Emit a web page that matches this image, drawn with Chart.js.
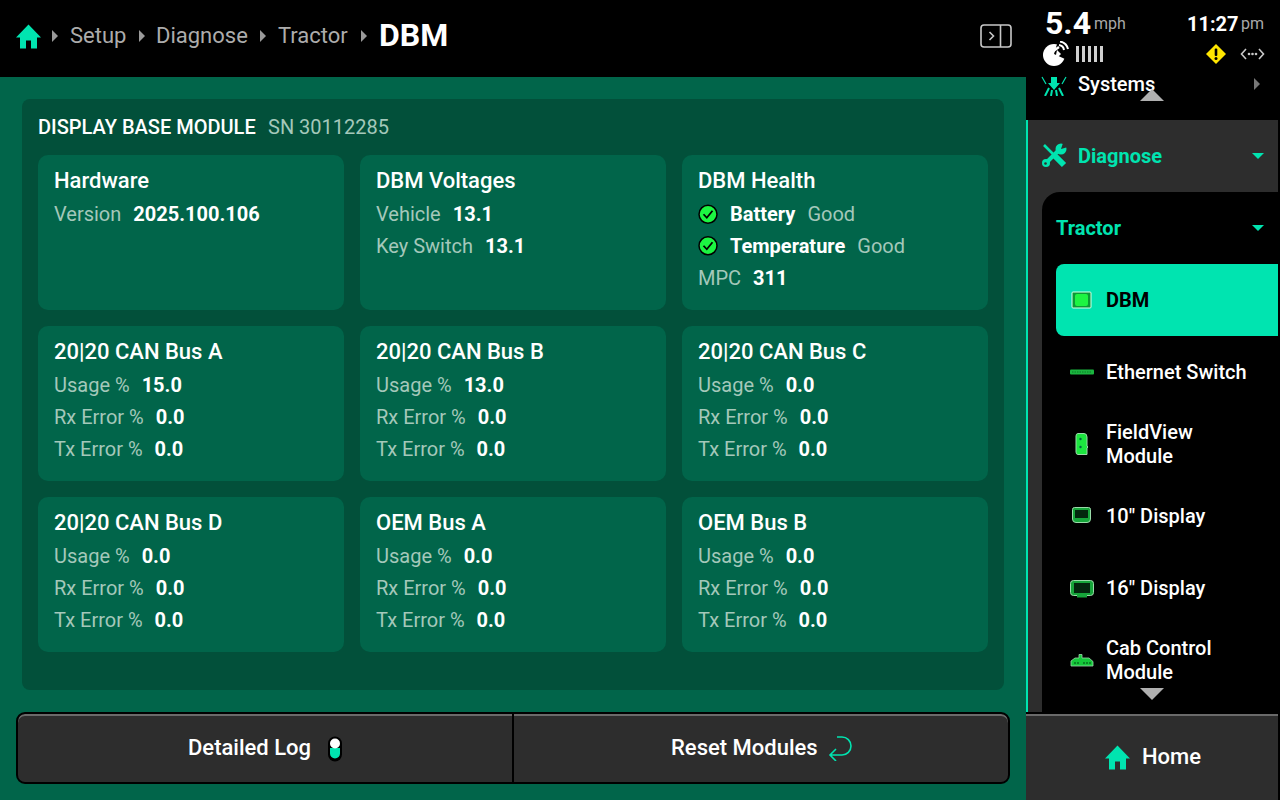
<!DOCTYPE html>
<html>
<head>
<meta charset="utf-8">
<title>DBM</title>
<script src="https://cdn.jsdelivr.net/npm/chart.js@4"></script>
<style>
  html, body { margin: 0; padding: 0; background: #000; }
  #screen { position: relative; width: 1280px; height: 800px; overflow: hidden; background: #000; font-family: Roboto, sans-serif; color: #fff; }
  #screen > div, #screen > svg, #screen > canvas { position: absolute; }
  .box { box-sizing: border-box; }
  .t { white-space: nowrap; line-height: 32px; height: 32px; }
  .card { background: #01654a; border-radius: 10px; }
  .row { display: flex; gap: 12px; font-size: 20px; }
  .lbl { color: #a4c8ba; }
  .val { color: #fff; font-weight: 700; }
  .crumb { color: #acacac; font-size: 22px; }
  .side { font-size: 20px; font-weight: 500; line-height: 24px; white-space: nowrap; }
</style>
</head>
<body>
<div id="screen"></div>
<script>
// breadcrumb + header
const crumbs = ['Setup', 'Diagnose', 'Tractor'];
const crumbX = [70, 156, 278];
const crumbArrowX = [52, 139, 260, 361];

// top row of cards
const hardwareVersion = '2025.100.106';
const voltageLabels = ['Vehicle', 'Key Switch'];
const voltageValues = ['13.1', '13.1'];
const healthLabels = ['Battery', 'Temperature'];
const healthText = ['Good', 'Good'];
const healthOk = [1, 1];
const mpcValue = '311';

// bus cards
const busNames = ['20|20 CAN Bus A', '20|20 CAN Bus B', '20|20 CAN Bus C', '20|20 CAN Bus D', 'OEM Bus A', 'OEM Bus B'];
const busUsage = ['15.0', '13.0', '0.0', '0.0', '0.0', '0.0'];
const busRxError = ['0.0', '0.0', '0.0', '0.0', '0.0', '0.0'];
const busTxError = ['0.0', '0.0', '0.0', '0.0', '0.0', '0.0'];

const screen_ = document.getElementById('screen');

function put(html, css, cls) {
  const el = document.createElement('div');
  if (cls) el.className = cls;
  el.style.cssText = css;
  el.innerHTML = html;
  screen_.appendChild(el);
  return el;
}

function svg(x, y, w, h, inner) {
  put(`<svg width="${w}" height="${h}" viewBox="0 0 ${w} ${h}" style="display:block">${inner}</svg>`,
    `left:${x}px;top:${y}px;width:${w}px;height:${h}px`);
}

function rect(x, y, w, h, color, extra) {
  return put('', `left:${x}px;top:${y}px;width:${w}px;height:${h}px;background:${color};${extra || ''}`, 'box');
}

function text(x, cy, str, size, weight, color) {
  return put(str, `left:${x}px;top:${cy - 16}px;font-size:${size}px;font-weight:${weight};color:${color}`, 't');
}

function row(x, cy, label, value) {
  return put(`<span class="lbl">${label}</span><span class="val">${value}</span>`,
    `left:${x}px;top:${cy - 16}px;line-height:32px`, 'row');
}

const homePath = 'M12 0 L24.5 13 L20.5 13 L20.5 24 L14.5 24 L14.5 16 L9.5 16 L9.5 24 L3.5 24 L3.5 13 L-0.5 13 Z';

// ---- main area
rect(0, 77, 1026, 723, '#01654a');
rect(22, 99, 982, 591, '#02503a', 'border-radius:8px');

text(38, 127, 'DISPLAY BASE MODULE', 20, 500, '#fff');
text(268, 127, 'SN 30112285', 20, 400, '#a4c8ba');

const cardX = [38, 360, 682];
const cardY = [155, 326, 497];
cardY.forEach(y => cardX.forEach(x => {
  put('', `left:${x}px;top:${y}px;width:306px;height:155px`, 'card');
}));

text(54, 181, 'Hardware', 22, 500, '#fff');
row(54, 214, 'Version', hardwareVersion);

text(376, 181, 'DBM Voltages', 22, 500, '#fff');
voltageLabels.forEach((label, i) => row(376, 214 + i * 32, label, voltageValues[i]));

text(698, 181, 'DBM Health', 22, 500, '#fff');
healthLabels.forEach((label, i) => {
  put(`<span class="val">${label}</span><span class="lbl">${healthText[i]}</span>`,
    `left:730px;top:${214 + i * 32 - 16}px;line-height:32px`, 'row');
});
row(698, 278, 'MPC', mpcValue);

busNames.forEach((name, i) => {
  const x = cardX[i % 3] + 16;
  const y = cardY[1 + Math.floor(i / 3)];
  text(x, y + 26, name, 22, 500, '#fff');
  row(x, y + 59, 'Usage %', busUsage[i]);
  row(x, y + 91, 'Rx Error %', busRxError[i]);
  row(x, y + 123, 'Tx Error %', busTxError[i]);
});

// ---- top bar
svg(16, 24, 25, 25, `<path d="${homePath}" transform="translate(0.5,0.5)" fill="#00e4b0"/>`);
crumbs.forEach((c, i) => put(c, `left:${crumbX[i]}px;top:20px`, 't crumb'));
crumbArrowX.forEach(x => svg(x, 30, 6, 12, '<path d="M0 0 L6 6 L0 12 Z" fill="#9a9a9a"/>'));
text(379, 35, 'DBM', 32, 700, '#fff');

svg(980, 24, 32, 24, `<rect x="1" y="1" width="30" height="22" rx="3" fill="none" stroke="#c8c8c8" stroke-width="1.6"/>
  <path d="M20.5 1 V23" stroke="#c8c8c8" stroke-width="1.6"/>
  <path d="M9.5 8 L13.5 12 L9.5 16" fill="none" stroke="#c8c8c8" stroke-width="1.6"/>`);

// ---- status block
text(1045, 23, '5.4', 32, 700, '#fff');
text(1094, 24, 'mph', 16, 400, '#a8a8a8');
text(1187, 24, '11:27', 20, 700, '#fff');
text(1241, 24, 'pm', 16, 400, '#a8a8a8');
svg(1043, 41, 27, 26, `<circle cx="11" cy="14" r="11" fill="#fff"/>
  <path d="M11 13 L15 0 H27 V14 L22 18 Z" fill="#000"/>
  <path d="M9 11 L16 6" stroke="#fff" stroke-width="2.4"/>
  <path d="M14 9 L18 13 L12 19 Z" fill="#fff"/>
  <path d="M16 4 A6 6 0 0 1 21 9 M17 0.5 A10 10 0 0 1 25 8" fill="none" stroke="#fff" stroke-width="2"/>`);
svg(1076, 46, 28, 16, [0, 6, 12, 18, 24].map(x => `<rect x="${x}" y="0" width="3" height="16" fill="#d0d0d0"/>`).join(''));
svg(1206, 44, 20, 20, `<path d="M10 0 L20 10 L10 20 L0 10 Z" fill="#ffe600"/><rect x="8.7" y="4.5" width="2.6" height="7.5" rx="1" fill="#000"/><circle cx="10" cy="14.5" r="1.5" fill="#000"/>`);
svg(1240, 47, 25, 14, `<path d="M6 2 L1.5 7 L6 12 M19 2 L23.5 7 L19 12" fill="none" stroke="#c8c8c8" stroke-width="1.6"/>
  <circle cx="9" cy="7" r="1.3" fill="#c8c8c8"/><circle cx="12.5" cy="7" r="1.3" fill="#c8c8c8"/><circle cx="16" cy="7" r="1.3" fill="#c8c8c8"/>`);

// ---- side menu
svg(1041, 76, 26, 20, `<path d="M10 1 H16 V7 H19 L13 14 L7 7 H10 Z" fill="#00e4b0"/>
  <path d="M8 12 L4 20 M18 12 L22 20 M11 14 L10 20 M15 14 L16 20" stroke="#00e4b0" stroke-width="2"/>
  <path d="M1 1 L5 8 M25 1 L21 8" stroke="#00e4b0" stroke-width="1.2"/>`);
put('Systems', 'left:1078px;top:72px', 'side');
svg(1254, 78, 6, 12, '<path d="M0 0 L6 6 L0 12 Z" fill="#777"/>');

rect(1026, 120, 252, 592, '#2d2d2d');
rect(1026, 120, 2, 592, '#00e4b0');
rect(1042, 192, 236, 520, '#000', 'border-top-left-radius:18px');
svg(1140, 89, 24, 12, '<path d="M12 0 L24 12 L0 12 Z" fill="#b0b0b0"/>');

svg(1041, 143, 27, 26, `<path d="M3 2 L14 13" stroke="#00e4b0" stroke-width="2.6"/>
  <path d="M14 13 L23 22" stroke="#00e4b0" stroke-width="6"/>
  <path d="M5 20 L19 6" stroke="#00e4b0" stroke-width="4"/>
  <circle cx="20" cy="6" r="5.5" fill="#00e4b0"/>
  <path d="M20 6 L22 0 H27 V4 Z" fill="#2d2d2d"/>
  <circle cx="5" cy="20" r="4" fill="#00e4b0"/><circle cx="4.5" cy="20.5" r="1.3" fill="#2d2d2d"/>`);
put('Diagnose', 'left:1078px;top:144px;color:#00e4b0;font-weight:700', 'side');
svg(1252, 153, 12, 6, '<path d="M0 0 L12 0 L6 6 Z" fill="#00e4b0"/>');

put('Tractor', 'left:1056px;top:216px;color:#00e4b0;font-weight:700', 'side');
svg(1252, 225, 12, 6, '<path d="M0 0 L12 0 L6 6 Z" fill="#00e4b0"/>');

rect(1056, 264, 222, 72, '#00e4b0', 'border-radius:8px 0 0 8px');
svg(1071, 291, 22, 18, `<rect x="1" y="1" width="19" height="16" rx="1" fill="#0a9a35" stroke="#d8ffe6" stroke-width="1"/><rect x="4" y="3" width="13" height="12" rx="2" fill="#1cf542"/>`);
put('DBM', 'left:1106px;top:288px;color:#000;font-weight:700', 'side');

svg(1070, 369, 24, 6, '<rect x="0" y="0.5" width="24" height="5" rx="1" fill="#1bb53f"/><path d="M2 3 H22" stroke="#0b7a26" stroke-dasharray="1.5 1"/>');
put('Ethernet Switch', 'left:1106px;top:360px', 'side');

svg(1075, 433, 14, 22, '<path d="M3 0.5 H9 Q12 0.5 12 4 V13 L13 14 L12 15 V21.5 H3 Q1 21.5 1 19 V3 Q1 0.5 3 0.5 Z" fill="#1ce63f" stroke="#9adba9"/><circle cx="5.5" cy="6" r="1.2" fill="#064"/><circle cx="5.5" cy="14" r="1.2" fill="#064"/>');
put('FieldView<br>Module', 'left:1106px;top:420px', 'side');

svg(1072, 507, 19, 17, '<path d="M2.5 0.5 H16.5 Q18.5 0.5 18.5 2.5 V12 Q18.5 15.5 15 15.5 H4 Q0.5 15.5 0.5 12 V2.5 Q0.5 0.5 2.5 0.5 Z" fill="#16a53a" stroke="#9adba9"/><rect x="3" y="3" width="13" height="8" fill="#03260e"/>');
put('10" Display', 'left:1106px;top:504px', 'side');

svg(1070, 580, 24, 18, '<rect x="0.5" y="0.5" width="23" height="15" rx="3" fill="#16a53a" stroke="#9adba9"/><rect x="4" y="3" width="16" height="10" fill="#03260e"/><rect x="7" y="15" width="10" height="2.5" fill="#16a53a"/>');
put('16" Display', 'left:1106px;top:576px', 'side');

svg(1070, 653, 24, 14, '<path d="M1 8 L5 5 H9 V1.5 H12 V5 H19 L23 8.5 V13 H1 Z" fill="#14c93a" stroke="#9adba9" stroke-width="0.8"/><path d="M5 9 V11 M8 9 V11 M14 9 V11 M17 9 V11 M20 9 V11" stroke="#076b1e" stroke-width="1.4"/>');
put('Cab Control<br>Module', 'left:1106px;top:636px', 'side');
svg(1140, 688, 24, 12, '<path d="M0 0 L24 0 L12 12 Z" fill="#b0b0b0"/>');

// home button, bottom right
rect(1026, 714, 252, 86, '#2d2d2d', 'border-top:2px solid #6a6a6a');
svg(1105, 745, 25, 25, `<path d="${homePath}" transform="translate(0.5,0.5)" fill="#00e4b0"/>`);
text(1142, 757, 'Home', 22, 500, '#fff');

// ---- bottom buttons
rect(16, 712, 994, 72, '#2d2d2d', 'border:2px solid #000;border-radius:9px;box-shadow:inset 0 2px 0 #6a6a6a');
rect(512, 714, 2, 68, '#000');
text(188, 748, 'Detailed Log', 22, 500, '#fff');
svg(326, 736, 18, 26, `<rect x="2" y="0.5" width="14" height="25" rx="7" fill="#000"/>
  <path d="M4 12 H14 V17.5 A5 5 0 0 1 4 17.5 Z" fill="#00e4b0"/>
  <circle cx="9" cy="7.5" r="5" fill="#fff"/>`);
text(671, 748, 'Reset Modules', 22, 500, '#fff');
svg(828, 735, 24, 26, `<path d="M9 2 H14 A9 9 0 0 1 14 20 H2 M8 14 L2 20 L8 26" fill="none" stroke="#00e4b0" stroke-width="1.6"/>`);

// ---- health status dots, through Chart.js
// the chart reserves about one radius of padding round the plot area, so the box is that much bigger
put('<canvas id="healthChart"></canvas>', 'left:682px;top:188px;width:52px;height:84px');

const checkMarks = {
  id: 'checkMarks',
  afterDatasetsDraw(chart) {
    const ctx = chart.ctx;
    ctx.save();
    ctx.strokeStyle = '#000';
    ctx.lineWidth = 1.8;
    chart.getDatasetMeta(0).data.forEach(pt => {
      ctx.beginPath();
      ctx.moveTo(pt.x - 4.5, pt.y);
      ctx.lineTo(pt.x - 1.2, pt.y + 3.5);
      ctx.lineTo(pt.x + 4.5, pt.y - 3.5);
      ctx.stroke();
    });
    ctx.restore();
  }
};

new Chart(document.getElementById('healthChart'), {
  type: 'bubble',
  data: {
    labels: healthLabels,
    datasets: [{
      data: healthOk.map((v, i) => ({ x: v, y: healthLabels[i], r: 9 })),
      backgroundColor: '#1cf542',
      borderColor: '#000',
      borderWidth: 1.5,
      clip: false
    }]
  },
  options: {
    responsive: true,
    maintainAspectRatio: false,
    animation: false,
    events: [],
    layout: { padding: 0 },
    plugins: { legend: { display: false }, tooltip: { enabled: false } },
    scales: {
      x: { type: 'linear', min: 0, max: 2, display: false },
      y: { type: 'category', labels: healthLabels, offset: true, display: false }
    }
  },
  plugins: [checkMarks]
});
</script>
</body>
</html>
